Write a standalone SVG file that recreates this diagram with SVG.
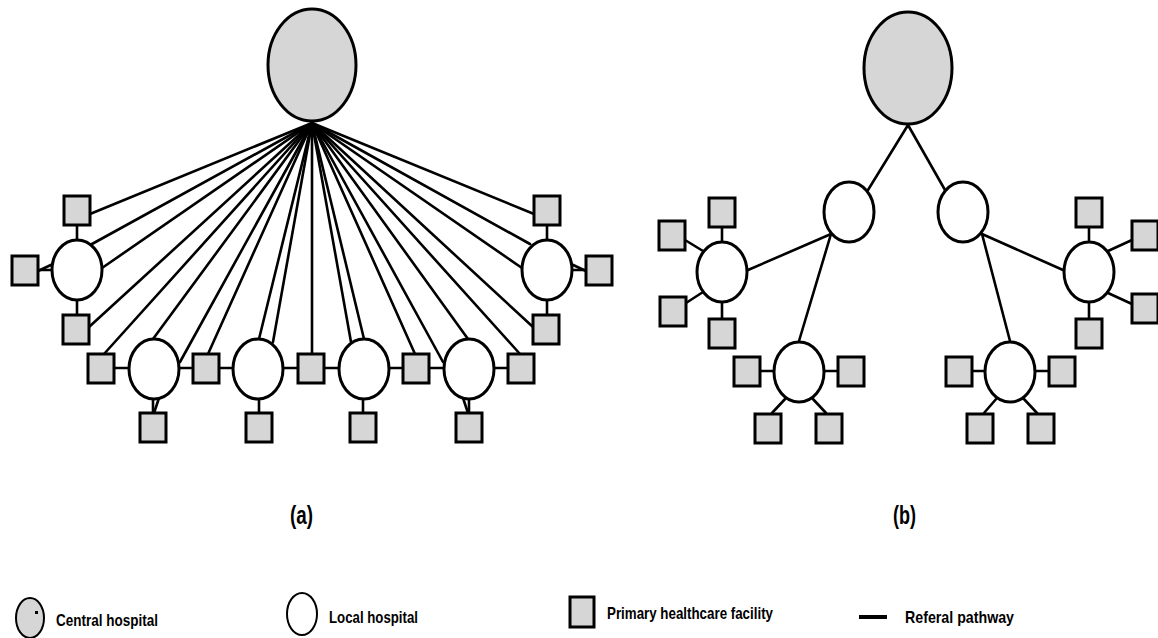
<svg xmlns="http://www.w3.org/2000/svg" width="1158" height="638" viewBox="0 0 1158 638">
<style>
.central{fill:#d6d6d6;stroke:#000;stroke-width:3}
.local{fill:#fff;stroke:#000;stroke-width:3}
.phc{fill:#d6d6d6;stroke:#000;stroke-width:3}
.edge{stroke:#000;stroke-width:2.6;fill:none;stroke-linecap:round}
.lbl{font-family:"Liberation Sans",Arial,sans-serif;font-weight:bold;fill:#000}
</style>
<rect width="1158" height="638" fill="#fff"/>
<g id="connectors">
  <g class="edge">
    <line x1="312" y1="123" x2="90" y2="214"/>
    <line x1="312" y1="123" x2="92" y2="244"/>
    <line x1="312" y1="123" x2="102" y2="268"/>
    <line x1="312" y1="123" x2="89" y2="327"/>
    <line x1="312" y1="123" x2="104" y2="354"/>
    <line x1="312" y1="123" x2="153" y2="339"/>
    <line x1="312" y1="123" x2="180" y2="362"/>
    <line x1="312" y1="123" x2="208" y2="354"/>
    <line x1="312" y1="123" x2="259" y2="339"/>
    <line x1="312" y1="123" x2="273" y2="342"/>
    <line x1="312" y1="123" x2="312" y2="354"/>
    <line x1="312" y1="123" x2="351" y2="342"/>
    <line x1="312" y1="123" x2="364" y2="339"/>
    <line x1="312" y1="123" x2="415" y2="354"/>
    <line x1="312" y1="123" x2="443" y2="362"/>
    <line x1="312" y1="123" x2="468" y2="339"/>
    <line x1="312" y1="123" x2="520" y2="354"/>
    <line x1="312" y1="123" x2="533" y2="327"/>
    <line x1="312" y1="123" x2="522" y2="268"/>
    <line x1="312" y1="123" x2="530" y2="244"/>
    <line x1="312" y1="123" x2="534" y2="214"/>
    <line x1="77" y1="225" x2="77" y2="240"/>
    <line x1="38" y1="270" x2="52" y2="270"/>
    <line x1="38" y1="271" x2="53" y2="264"/>
    <line x1="77" y1="300" x2="77" y2="315"/>
    <line x1="114" y1="368" x2="129" y2="368"/>
    <line x1="179" y1="368" x2="193" y2="368"/>
    <line x1="219" y1="368" x2="233" y2="368"/>
    <line x1="283" y1="368" x2="298" y2="368"/>
    <line x1="324" y1="368" x2="339" y2="368"/>
    <line x1="389" y1="368" x2="403" y2="368"/>
    <line x1="429" y1="368" x2="444" y2="368"/>
    <line x1="494" y1="368" x2="508" y2="368"/>
    <line x1="153" y1="399" x2="153" y2="413"/>
    <line x1="159" y1="398" x2="154" y2="413"/>
    <line x1="259" y1="399" x2="259" y2="413"/>
    <line x1="363" y1="399" x2="363" y2="413"/>
    <line x1="469" y1="399" x2="469" y2="413"/>
    <line x1="463" y1="398" x2="468" y2="413"/>
    <line x1="547" y1="225" x2="547" y2="240"/>
    <line x1="572" y1="270" x2="586" y2="270"/>
    <line x1="571" y1="264" x2="586" y2="271"/>
    <line x1="547" y1="300" x2="547" y2="315"/>
    <line x1="908" y1="125" x2="868" y2="190"/>
    <line x1="908" y1="125" x2="945" y2="190"/>
    <line x1="831" y1="234" x2="748" y2="270"/>
    <line x1="831" y1="234" x2="799" y2="341"/>
    <line x1="982" y1="234" x2="1063" y2="270"/>
    <line x1="982" y1="234" x2="1010" y2="341"/>
    <line x1="722" y1="228" x2="722" y2="242"/>
    <line x1="685" y1="240" x2="703" y2="251"/>
    <line x1="686" y1="303" x2="703" y2="292"/>
    <line x1="722" y1="302" x2="722" y2="318"/>
    <line x1="760" y1="371" x2="774" y2="371"/>
    <line x1="824" y1="371" x2="838" y2="371"/>
    <line x1="786" y1="398" x2="772" y2="413"/>
    <line x1="812" y1="398" x2="826" y2="413"/>
    <line x1="972" y1="371" x2="985" y2="371"/>
    <line x1="1035" y1="371" x2="1049" y2="371"/>
    <line x1="997" y1="398" x2="984" y2="413"/>
    <line x1="1023" y1="398" x2="1037" y2="413"/>
    <line x1="1089" y1="228" x2="1089" y2="242"/>
    <line x1="1108" y1="251" x2="1132" y2="240"/>
    <line x1="1108" y1="293" x2="1132" y2="304"/>
    <line x1="1089" y1="302" x2="1089" y2="318"/>
  </g>
</g>
<g id="a-central"><ellipse class="central" cx="312" cy="65" rx="44" ry="56"/></g>
<g id="a-local-1"><ellipse class="local" cx="77" cy="270" rx="25" ry="30"/></g>
<g id="a-local-2"><ellipse class="local" cx="154" cy="369" rx="25" ry="30"/></g>
<g id="a-local-3"><ellipse class="local" cx="258" cy="369" rx="25" ry="30"/></g>
<g id="a-local-4"><ellipse class="local" cx="364" cy="369" rx="25" ry="30"/></g>
<g id="a-local-5"><ellipse class="local" cx="469" cy="369" rx="25" ry="30"/></g>
<g id="a-local-6"><ellipse class="local" cx="547" cy="270" rx="25" ry="30"/></g>
<g id="a-phc-1"><rect class="phc" x="64" y="196" width="26" height="29"/></g>
<g id="a-phc-2"><rect class="phc" x="12" y="256" width="26" height="29"/></g>
<g id="a-phc-3"><rect class="phc" x="63" y="315" width="26" height="29"/></g>
<g id="a-phc-4"><rect class="phc" x="88" y="354" width="26" height="29"/></g>
<g id="a-phc-5"><rect class="phc" x="193" y="354" width="26" height="29"/></g>
<g id="a-phc-6"><rect class="phc" x="298" y="354" width="26" height="29"/></g>
<g id="a-phc-7"><rect class="phc" x="403" y="354" width="26" height="29"/></g>
<g id="a-phc-8"><rect class="phc" x="508" y="354" width="26" height="29"/></g>
<g id="a-phc-9"><rect class="phc" x="140" y="413" width="26" height="29"/></g>
<g id="a-phc-10"><rect class="phc" x="246" y="413" width="26" height="29"/></g>
<g id="a-phc-11"><rect class="phc" x="350" y="413" width="26" height="29"/></g>
<g id="a-phc-12"><rect class="phc" x="456" y="413" width="26" height="29"/></g>
<g id="a-phc-13"><rect class="phc" x="534" y="196" width="26" height="29"/></g>
<g id="a-phc-14"><rect class="phc" x="586" y="256" width="26" height="29"/></g>
<g id="a-phc-15"><rect class="phc" x="533" y="315" width="26" height="29"/></g>
<g id="b-central"><ellipse class="central" cx="908" cy="68" rx="44" ry="56"/></g>
<g id="b-local-1"><ellipse class="local" cx="849" cy="212" rx="25" ry="30"/></g>
<g id="b-local-2"><ellipse class="local" cx="963" cy="212" rx="25" ry="30"/></g>
<g id="b-local-3"><ellipse class="local" cx="722" cy="272" rx="25" ry="30"/></g>
<g id="b-local-4"><ellipse class="local" cx="799" cy="372" rx="25" ry="30"/></g>
<g id="b-local-5"><ellipse class="local" cx="1010" cy="372" rx="25" ry="30"/></g>
<g id="b-local-6"><ellipse class="local" cx="1089" cy="272" rx="25" ry="30"/></g>
<g id="b-phc-1"><rect class="phc" x="709" y="198" width="26" height="29"/></g>
<g id="b-phc-2"><rect class="phc" x="659" y="221" width="26" height="29"/></g>
<g id="b-phc-3"><rect class="phc" x="660" y="297" width="26" height="29"/></g>
<g id="b-phc-4"><rect class="phc" x="709" y="319" width="26" height="29"/></g>
<g id="b-phc-5"><rect class="phc" x="734" y="357" width="26" height="29"/></g>
<g id="b-phc-6"><rect class="phc" x="838" y="357" width="26" height="29"/></g>
<g id="b-phc-7"><rect class="phc" x="755" y="414" width="26" height="29"/></g>
<g id="b-phc-8"><rect class="phc" x="816" y="414" width="26" height="29"/></g>
<g id="b-phc-9"><rect class="phc" x="946" y="357" width="26" height="29"/></g>
<g id="b-phc-10"><rect class="phc" x="1049" y="357" width="26" height="29"/></g>
<g id="b-phc-11"><rect class="phc" x="967" y="414" width="26" height="29"/></g>
<g id="b-phc-12"><rect class="phc" x="1028" y="414" width="26" height="29"/></g>
<g id="b-phc-13"><rect class="phc" x="1076" y="198" width="26" height="29"/></g>
<g id="b-phc-14"><rect class="phc" x="1132" y="221" width="26" height="29"/></g>
<g id="b-phc-15"><rect class="phc" x="1132" y="294" width="26" height="29"/></g>
<g id="b-phc-16"><rect class="phc" x="1076" y="319" width="26" height="29"/></g>
<g id="caption-a"><text class="lbl" x="290" y="524" font-size="25" textLength="23" lengthAdjust="spacingAndGlyphs">(a)</text></g>
<g id="caption-b"><text class="lbl" x="893" y="524" font-size="25" textLength="23" lengthAdjust="spacingAndGlyphs">(b)</text></g>
<g id="legend-central">
  <ellipse cx="30" cy="618" rx="14" ry="20" fill="#d6d6d6" stroke="#000" stroke-width="2"/>
  <rect x="35" y="611" width="3" height="3" fill="#000"/>
  <text class="lbl" x="56" y="626" font-size="17" textLength="102" lengthAdjust="spacingAndGlyphs">Central hospital</text>
</g>
<g id="legend-local">
  <ellipse cx="302" cy="614" rx="15" ry="21" fill="#fff" stroke="#000" stroke-width="2"/>
  <text class="lbl" x="329" y="623" font-size="17" textLength="89" lengthAdjust="spacingAndGlyphs">Local hospital</text>
</g>
<g id="legend-phc">
  <rect x="570" y="597" width="24" height="30" fill="#d6d6d6" stroke="#000" stroke-width="3"/>
  <text class="lbl" x="607" y="619" font-size="17" textLength="166" lengthAdjust="spacingAndGlyphs">Primary healthcare facility</text>
</g>
<g id="legend-pathway">
  <line x1="859" y1="617" x2="887" y2="617" stroke="#000" stroke-width="4"/>
  <text class="lbl" x="905" y="623" font-size="17" textLength="109" lengthAdjust="spacingAndGlyphs">Referal pathway</text>
</g>
</svg>
